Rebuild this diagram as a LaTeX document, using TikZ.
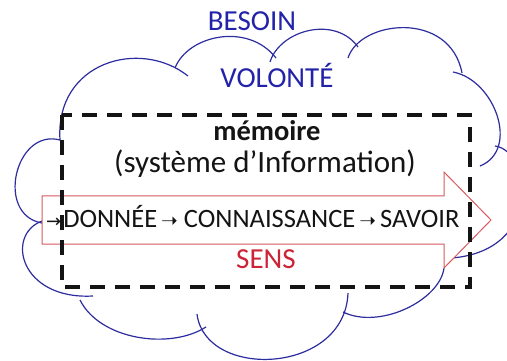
\documentclass[tikz,border=0pt]{standalone}
\usepackage{fontspec}
\setmainfont{Carlito}
\newfontfamily\arrowfont{DejaVu Sans}
\definecolor{cloudblue}{RGB}{45,45,160}
\definecolor{textblue}{RGB}{35,35,170}
\definecolor{sensred}{RGB}{205,35,55}
\definecolor{arrowred}{RGB}{215,90,95}
\definecolor{inkblack}{RGB}{20,20,20}
\begin{document}
\begin{tikzpicture}[x=1pt,y=-1pt,
  cloudline/.style={draw=cloudblue,line width=1.2pt},
  bigarrow/.style={draw=arrowred,line width=1pt,fill=white,line join=miter},
  memframe/.style={draw=inkblack,line width=3.6pt,dash pattern=on 15pt off 10pt},
  bluetxt/.style={text=textblue,font=\fontsize{29}{32}\selectfont,inner sep=0pt,anchor=base},
  blacktxt/.style={text=inkblack,font=\fontsize{27}{30}\selectfont,inner sep=0pt,anchor=base},
  redtxt/.style={text=sensred,font=\fontsize{29}{32}\selectfont,inner sep=0pt,anchor=base}]
\useasboundingbox (0,0) rectangle (507,361);
\clip (0,0) rectangle (507,361);
\fill[white] (0,0) rectangle (507,361);
% cloud bumps
\draw[cloudline] (60,140) .. controls (55,62) and (140,38) .. (188,76);
\draw[cloudline] (175,68) .. controls (188,35) and (248,22) .. (276,58);
\draw[cloudline] (270,62) .. controls (280,30) and (335,15) .. (358,47);
\draw[cloudline] (348,58) .. controls (360,20) and (450,10) .. (462,73);
\draw[cloudline] (453,72) .. controls (495,80) and (520,150) .. (480,166);
\draw[cloudline] (495,146) .. controls (530,150) and (545,250) .. (452,258);
\draw[cloudline] (444,268) .. controls (440,300) and (380,330) .. (343,312);
\draw[cloudline] (348,293) .. controls (345,375) and (205,380) .. (197,314);
\draw[cloudline] (80,300) .. controls (100,340) and (170,350) .. (206,327);
\draw[cloudline] (42,221) .. controls (5,235) and (20,300) .. (93,296);
\draw[cloudline] (60,140) .. controls (15,128) and (-5,215) .. (42,223);
% red arrow
\draw[bigarrow] (42,196) -- (444,196) -- (444,172) -- (491,220) -- (444,268) -- (444,244) -- (42,244) -- cycle;
% dashed frame
\draw[memframe] (62,115) rectangle (470,287);
% texts
\node[bluetxt] (besoin) at (252,31) {BESOIN};
\node[bluetxt] (volonte) at (277,88) {VOLONTÉ};
\node[blacktxt,font=\fontsize{28.5}{30}\selectfont\bfseries] (memoire) at (267,141) {mémoire};
\node[blacktxt,font=\fontsize{31}{34}\selectfont] (si) at (265,172) {(système d’Information)};
\node[blacktxt,font=\fontsize{26.5}{30}\selectfont,anchor=base west] (chain) at (46,228) {{\arrowfont\fontsize{18}{16}\selectfont →}\kern2pt DONNÉE\kern4pt{\arrowfont\fontsize{20}{16}\selectfont ➝}\kern6pt CONNAISSANCE\kern4pt{\arrowfont\fontsize{20}{16}\selectfont ➝}\kern4pt SAVOIR};
\node[redtxt] (sens) at (266,268) {SENS};
\end{tikzpicture}
\end{document}
